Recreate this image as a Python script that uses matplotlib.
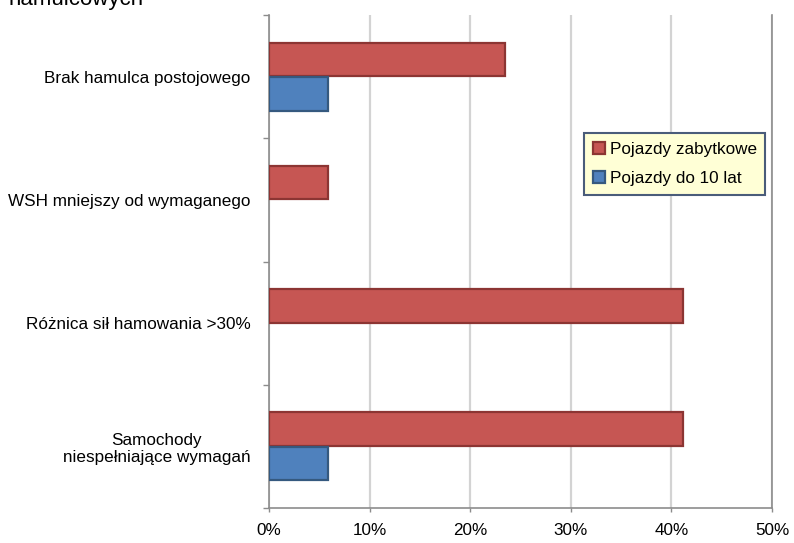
import numpy as np
import matplotlib.pyplot as plt
from matplotlib.ticker import FixedLocator, PercentFormatter

plt.rcParams['font.family'] = ['Liberation Sans', 'DejaVu Sans']

# dane
kategorie = ["Brak hamulca postojowego",
             "WSH mniejszy od wymaganego",
             "Różnica sił hamowania >30%",
             "Samochody\nniespełniające wymagań"]
zabytkowe = [23.5, 5.9, 41.2, 41.2]
do_10_lat = [5.9, 0.0, 0.0, 5.9]
serie = ["Pojazdy zabytkowe", "Pojazdy do 10 lat"]
xticks = [0, 10, 20, 30, 40, 50]

fs = 12.3

fig = plt.figure(figsize=(7.94, 5.43), dpi=100)
ax = fig.add_axes([269/794, 1 - 508/543, (772 - 269)/794, (508 - 15)/543])

y = np.arange(len(kategorie))
h = 0.27
ax.barh(y - 0.14, zabytkowe, height=h, color="#C65653", edgecolor="#8C3533",
        linewidth=1.6, label=serie[0], zorder=3)
b2 = ax.barh(y + 0.14, do_10_lat, height=h, color="#4F81BD", edgecolor="#35597F",
             linewidth=1.6, label=serie[1], zorder=3)
# zero-length bars should not show an edge
for bar, v in zip(b2, do_10_lat):
    if v == 0:
        bar.set_visible(False)

ax.set_xlim(0, 50)
ax.set_ylim(len(kategorie) - 0.5, -0.5)
ax.xaxis.set_major_locator(FixedLocator(xticks))
ax.xaxis.set_major_formatter(PercentFormatter(decimals=0))
ax.grid(axis="x", color="#D3D3D3", linewidth=1.6, zorder=0)

ax.set_yticks(y)
ax.set_yticklabels(kategorie)
for lab in ax.get_yticklabels():
    lab.set_multialignment("center")
ax.yaxis.set_minor_locator(FixedLocator(np.arange(-0.5, len(kategorie), 1)))
ax.tick_params(axis="y", which="major", length=0, pad=13.5, labelsize=fs)
ax.tick_params(axis="y", which="minor", length=4, color="#8C8C8C", width=1)
ax.tick_params(axis="x", length=3, color="#8C8C8C", width=1, pad=8, labelsize=fs)

for s in ["left", "bottom", "right"]:
    ax.spines[s].set_color("#8C8C8C")
    ax.spines[s].set_linewidth(1.2)
ax.spines["top"].set_visible(False)

leg = ax.legend(loc="upper left", bbox_to_anchor=(584/794, 1 - 133/543),
                bbox_transform=fig.transFigure, fontsize=fs, fancybox=False,
                handlelength=0.7, handleheight=0.7, handletextpad=0.3,
                borderpad=0.5, labelspacing=0.85, borderaxespad=0)
leg.get_frame().set_facecolor("#FFFFD6")
leg.get_frame().set_edgecolor("#4A5C7A")
leg.get_frame().set_linewidth(1.5)
leg.get_frame().set_alpha(1)

fig.text(8/794, 1 - 5/543, "hamulcowych", fontsize=16, va="baseline", ha="left")

fig.savefig("out.png", dpi=100)
